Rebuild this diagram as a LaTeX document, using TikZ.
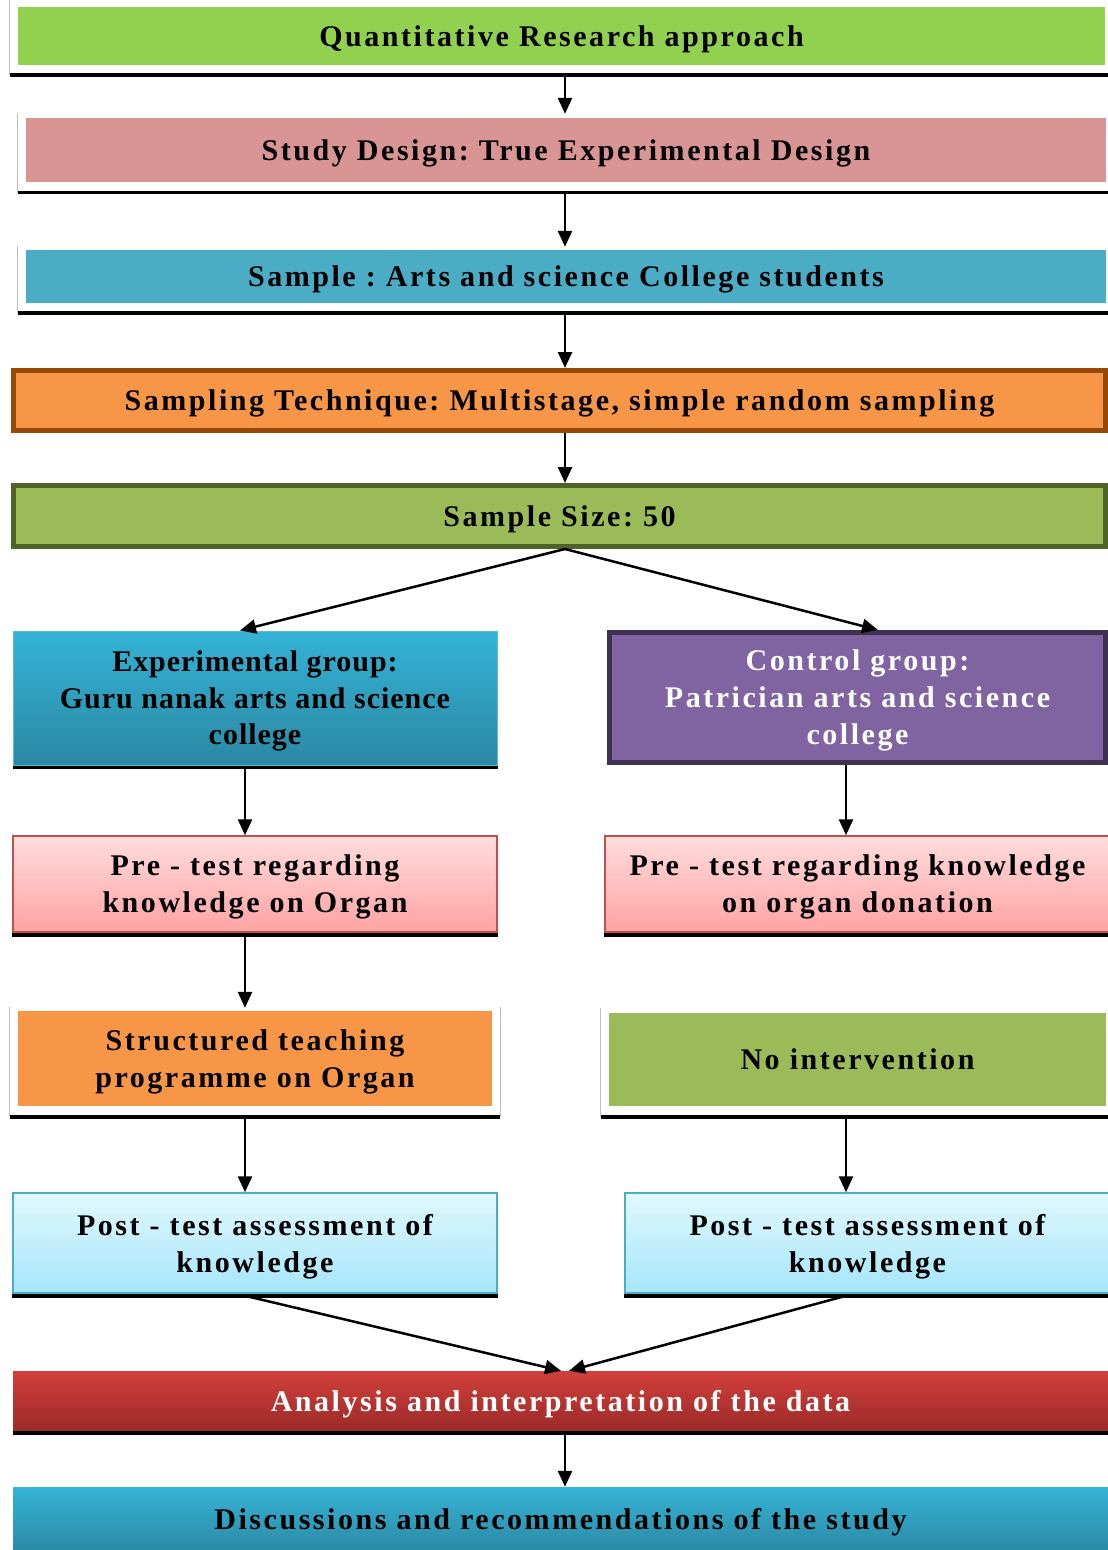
\documentclass[tikz,border=0pt]{standalone}
\usepackage{fontspec}
\setmainfont{Liberation Serif}
\newfontfamily\widefont{Liberation Serif}[LetterSpace=8.5]
\newfontfamily\tightfont{Liberation Serif}[LetterSpace=3.3]
\usetikzlibrary{arrows.meta,calc}
\definecolor{qgreen}{HTML}{92D050}
\definecolor{sdpink}{HTML}{D99594}
\definecolor{sblue}{HTML}{4BACC6}
\definecolor{stor}{HTML}{F79646}
\definecolor{stborder}{HTML}{984806}
\definecolor{ssgreen}{HTML}{9BBB59}
\definecolor{ssborder}{HTML}{4F6228}
\definecolor{egtop}{HTML}{34B3D6}
\definecolor{egbot}{HTML}{2B88A3}
\definecolor{egborder}{HTML}{5DBBD4}
\definecolor{cgfill}{HTML}{8064A2}
\definecolor{cgborder}{HTML}{3F3151}
\definecolor{pretop}{HTML}{FFDCDC}
\definecolor{prebot}{HTML}{FFA3A3}
\definecolor{preborder}{HTML}{C0504D}
\definecolor{posttop}{HTML}{E1F8FE}
\definecolor{postbot}{HTML}{A5E6FA}
\definecolor{postborder}{HTML}{4BACC6}
\definecolor{antop}{HTML}{D23F3B}
\definecolor{anbot}{HTML}{9B2A28}
\definecolor{distop}{HTML}{36B3D6}
\definecolor{disbot}{HTML}{2B8BA6}
\definecolor{framegray}{HTML}{BFBFBF}
\frenchspacing
\begin{document}
\begin{tikzpicture}[x=1pt,y=-1pt,
  box/.style={rectangle, inner sep=0pt, align=center, text depth=0pt,
    font=\widefont\bfseries\fontsize{30}{37}\selectfont\frenchspacing},
  tightbox/.style={box, font=\tightfont\bfseries\fontsize{30}{36.5}\selectfont\frenchspacing},
  arr/.style={line width=2.5pt, -{Triangle[length=16pt,width=14pt]}},
  shadowline/.style={line width=3.5pt, black},
  frameline/.style={line width=1.2pt, framegray}]
\useasboundingbox (0,0) rectangle (1108,1550);

% top column
\node[box, minimum width=1087pt, minimum height=58pt, fill=qgreen] (q) at (561.5,36) {Quantitative Research approach};
\node[box, minimum width=1080pt, minimum height=64pt, fill=sdpink] (sd) at (566,150) {Study Design: True Experimental Design};
\node[box, minimum width=1080pt, minimum height=53pt, fill=sblue] (s) at (566,276.5) {Sample : Arts and science College students};
\node[box, minimum width=1092pt, minimum height=60pt, fill=stor, draw=stborder, line width=5pt] (st) at (559.5,400.5) {Sampling Technique: Multistage, simple random sampling};
\node[box, minimum width=1092pt, minimum height=61pt, fill=ssgreen, draw=ssborder, line width=5pt] (ss) at (559.5,516) {Sample Size: 50};

% groups
\node[tightbox, minimum width=484pt, minimum height=134pt, top color=egtop, bottom color=egbot, draw=egborder, line width=1pt] (eg) at (255,698) {Experimental group:\\Guru nanak arts and science\\college};
\node[box, text=white, minimum width=496pt, minimum height=130pt, fill=cgfill, draw=cgborder, line width=5pt] (cg) at (857.5,697.5) {Control group:\\Patrician arts and science\\college};

\node[box, minimum width=484pt, minimum height=96pt, top color=pretop, bottom color=prebot, draw=preborder, line width=1.5pt] (prel) at (255,884) {Pre - test regarding\\knowledge on Organ};
\node[box, minimum width=505pt, minimum height=96pt, top color=pretop, bottom color=prebot, draw=preborder, line width=1.5pt] (prer) at (857.5,884) {Pre - test regarding knowledge\\on organ donation};

\node[box, minimum width=474pt, minimum height=95pt, fill=stor] (stp) at (255,1058.5) {Structured teaching\\programme on Organ};
\node[box, minimum width=497pt, minimum height=93pt, fill=ssgreen] (ni) at (857.5,1059.5) {No intervention};

\node[box, minimum width=484pt, minimum height=100pt, top color=posttop, bottom color=postbot, draw=postborder, line width=1.5pt] (postl) at (255,1243) {Post - test assessment of\\knowledge};
\node[box, minimum width=485pt, minimum height=100pt, top color=posttop, bottom color=postbot, draw=postborder, line width=1.5pt] (postr) at (867.5,1243) {Post - test assessment of\\knowledge};

\node[box, text=white, minimum width=1095pt, minimum height=60pt, top color=antop, bottom color=anbot] (an) at (560.5,1401) {Analysis and interpretation of the data};
\node[box, minimum width=1095pt, minimum height=63pt, top color=distop, bottom color=disbot] (dis) at (560.5,1518.5) {Discussions and recommendations of the study};

% shadow / frame lines
\draw[frameline] ($(q.north west)+(-8,-7)$) -- ($(q.south west)+(-8,10)$);
\draw[shadowline] ($(q.south west)+(-8,10)$) -- ($(q.south east)+(3,10)$);
\draw[frameline] ($(sd.north west)+(-8,-5)$) -- ($(sd.south west)+(-8,10.5)$);
\draw[shadowline] ($(sd.south west)+(-8,10.5)$) -- ($(sd.south east)+(2,10.5)$);
\draw[frameline] ($(s.north west)+(-8,-4)$) -- ($(s.south west)+(-8,10)$);
\draw[shadowline] ($(s.south west)+(-8,10)$) -- ($(s.south east)+(2,10)$);
\draw[shadowline] ($(eg.south west)+(0,2)$) -- ($(eg.south east)+(0,2)$);
\draw[shadowline] ($(prel.south west)+(0,2)$) -- ($(prel.south east)+(0,2)$);
\draw[shadowline] ($(prer.south west)+(0,2)$) -- ($(prer.south east)+(0,2)$);
\draw[frameline] ($(stp.north west)+(-8,-4)$) -- ($(stp.south west)+(-8,11)$);
\draw[frameline] ($(stp.north east)+(8,-4)$) -- ($(stp.south east)+(8,11)$);
\draw[shadowline] ($(stp.south west)+(-8,11)$) -- ($(stp.south east)+(8,11)$);
\draw[frameline] ($(ni.north west)+(-8,-5)$) -- ($(ni.south west)+(-8,11)$);
\draw[shadowline] ($(ni.south west)+(-8,11)$) -- ($(ni.south east)+(2,11)$);
\draw[shadowline] ($(postl.south west)+(0,2)$) -- ($(postl.south east)+(0,2)$);
\draw[shadowline] ($(postr.south west)+(0,2)$) -- ($(postr.south east)+(0,2)$);
\draw[shadowline] ($(an.south west)+(0,2)$) -- ($(an.south east)+(0,2)$);

% connectors
\coordinate (mid) at (565,0);
\coordinate (lcol) at (245,0);
\coordinate (rcol) at (846,0);
\draw[arr] ($(q.south -| mid)+(0,10)$) -- ($(sd.north -| mid)+(0,-4)$);
\draw[arr] ($(sd.south -| mid)+(0,11)$) -- ($(s.north -| mid)+(0,-3)$);
\draw[arr] ($(s.south -| mid)+(0,10)$) -- (st.north -| mid);
\draw[arr] (st.south -| mid) -- (ss.north -| mid);
\draw[arr] (ss.south -| mid) -- ($(eg.north)+(-15,0)$);
\draw[arr] (ss.south -| mid) -- ($(cg.north)+(20.5,0)$);
\draw[arr] ($(eg.south -| lcol)+(0,3)$) -- (prel.north -| lcol);
\draw[arr] (cg.south -| rcol) -- (prer.north -| rcol);
\draw[arr] ($(prel.south -| lcol)+(0,2)$) -- ($(stp.north -| lcol)+(0,-3)$);
\draw[arr] ($(stp.south -| lcol)+(0,11)$) -- (postl.north -| lcol);
\draw[arr] ($(ni.south -| rcol)+(0,11)$) -- (postr.north -| rcol);
\draw[arr] ($(postl.south -| lcol)+(0,2)$) -- ($(an.north -| mid)+(-4,0)$);
\draw[arr] ($(postr.south -| rcol)+(0,2)$) -- ($(an.north -| mid)+(4,0)$);
\draw[arr] ($(an.south -| mid)+(0,2)$) -- (dis.north -| mid);
\end{tikzpicture}
\end{document}
